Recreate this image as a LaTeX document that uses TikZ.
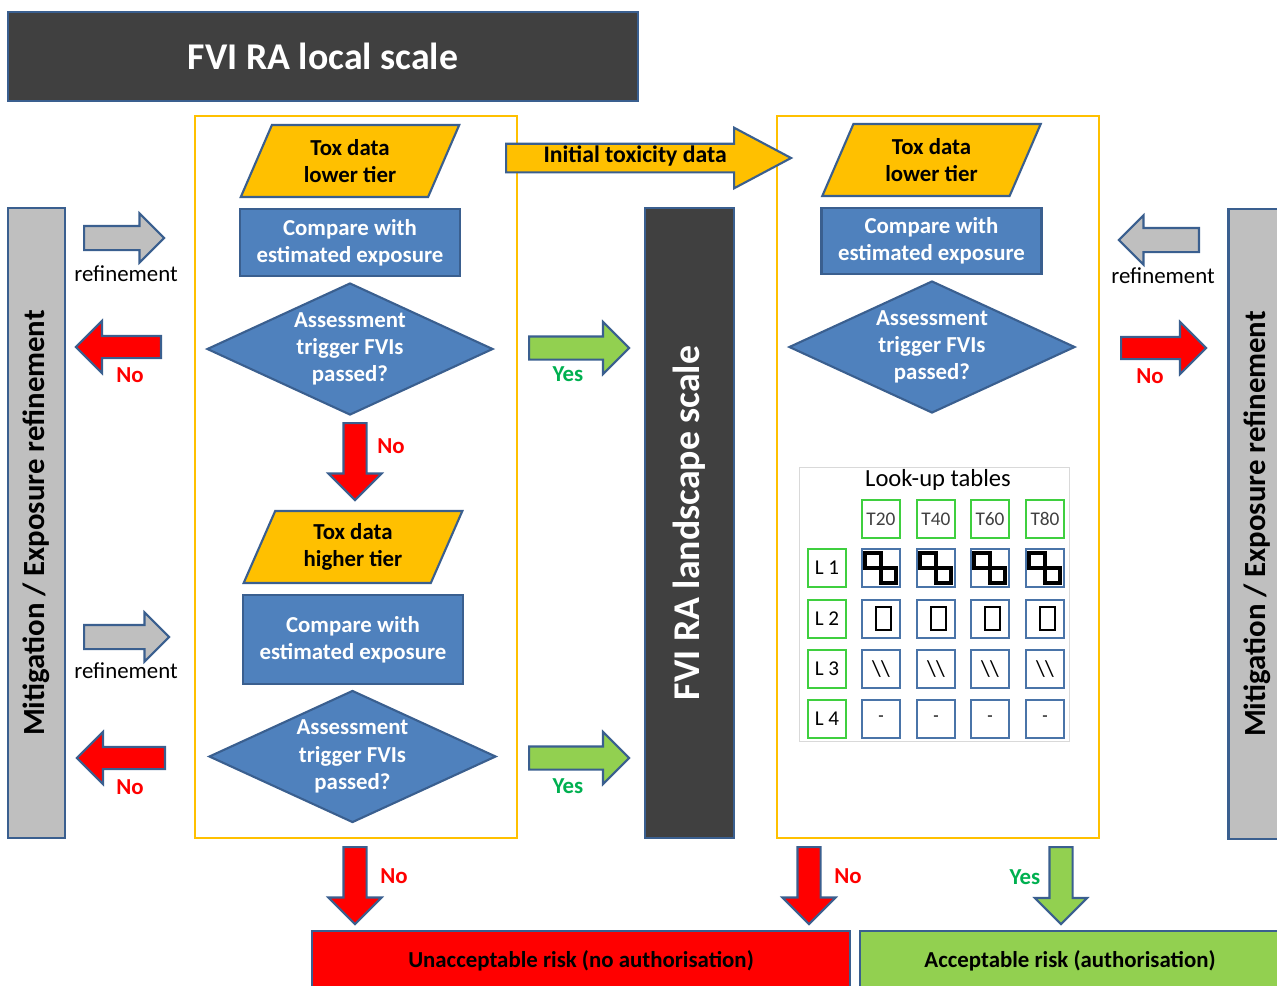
\documentclass[tikz,border=0pt]{standalone}
\usepackage{fontspec}
\setmainfont{Carlito}
\usetikzlibrary{positioning,shapes.geometric,shapes.arrows}

\definecolor{edgeblue}{HTML}{3A5F8F}
\definecolor{boxblue}{HTML}{4F81BD}
\definecolor{toxorange}{HTML}{FFC000}
\definecolor{bargray}{HTML}{BFBFBF}
\definecolor{darkbar}{HTML}{404040}
\definecolor{riskgreen}{HTML}{92D050}
\definecolor{yesgreen}{HTML}{00B050}
\definecolor{tabgreen}{HTML}{3FCF3F}
\definecolor{cellblue}{HTML}{4A74A8}

\newcommand{\boxfont}{\fontsize{13}{15.5}\selectfont\bfseries}

\tikzset{
  frame/.style={draw=toxorange, line width=1.4pt, fill=white},
  toxdata/.style={trapezium, trapezium left angle=67, trapezium right angle=113, trapezium stretches=true, draw=edgeblue, line width=1.2pt, fill=toxorange, minimum width=44mm, minimum height=14.4mm, inner sep=0pt, align=center, font=\boxfont},
  compare/.style={rectangle, draw=edgeblue, line width=1.2pt, fill=boxblue, text=white, minimum width=44mm, align=center, font=\boxfont},
  trigger/.style={diamond, draw=edgeblue, line width=1.2pt, fill=boxblue, text=white, aspect=2.17, inner sep=0pt, minimum width=57.2mm, minimum height=26.4mm, align=center, font=\boxfont},
  blockarrow/.style={single arrow, draw=edgeblue, line width=1.2pt, inner xsep=0pt, inner ysep=2.2mm, single arrow head extend=2.5mm, anchor=tail},
  refarrow/.style={blockarrow, fill=bargray, minimum height=16mm},
  noarrow/.style={blockarrow, fill=red, inner ysep=2mm, single arrow head extend=3mm, minimum height=17mm},
  yesarrow/.style={blockarrow, fill=riskgreen, inner ysep=2.1mm, single arrow head extend=2.9mm, minimum height=20mm},
  downarrow/.style={shape border rotate=270, inner xsep=2.1mm, inner ysep=0pt, minimum height=15.4mm},
  nolabel/.style={text=red, font=\boxfont},
  yeslabel/.style={text=yesgreen, font=\boxfont},
  reflabel/.style={font=\fontsize{13}{15}\selectfont},
  sidebar/.style={rectangle, rotate=90, draw=edgeblue, line width=1.4pt, fill=bargray, minimum width=126mm, minimum height=11.4mm, font=\fontsize{17.5}{20}\selectfont\bfseries},
  tabhead/.style={rectangle, draw=tabgreen, line width=0.8pt, minimum width=7.6mm, minimum height=7.6mm, inner sep=0pt, text=darkbar},
  tabcell/.style={rectangle, draw=cellblue, line width=0.8pt, minimum width=7.6mm, minimum height=7.6mm, inner sep=0pt}
}

\begin{document}
\begin{tikzpicture}[x=0.2mm, y=-0.2mm]
\useasboundingbox (0,0) rectangle (1277,985);

% title
\node[rectangle, draw=edgeblue, line width=1.4pt, fill=darkbar, text=white, minimum width=126mm, minimum height=17.8mm, font=\fontsize{21.5}{25}\selectfont\bfseries] (title) at (323,56.5) {FVI RA local scale};

% side bars
\node[sidebar] (mitleft) at (36.5,523) {Mitigation / Exposure refinement};
\node[sidebar] (mitright) at (1257,524) {Mitigation / Exposure refinement};
\node[sidebar, fill=darkbar, text=white, minimum height=17.8mm, font=\fontsize{21.5}{25}\selectfont\bfseries] (landscape) at (689.5,523) {FVI RA landscape scale};

% local scale
\node[frame, minimum width=64.4mm, minimum height=144.4mm] (localframe) at (356,477) {};
\node[toxdata] (lowL) at (350,161) {Tox data\\lower tier};
\node[compare, minimum height=13.4mm] (cmpL1) at (350,242.5) {Compare with\\estimated exposure};
\node[trigger] (trgL1) at (350,349) {Assessment\\trigger FVIs\\passed?};
\node[noarrow, downarrow] (noL0) at (355,422) {};
\node[nolabel] at (391,446) {No};
\node[toxdata] (highL) at (353,547) {Tox data\\higher tier};
\node[compare, minimum height=17.8mm] (cmpL2) at (353,639.5) {Compare with\\estimated exposure};
\node[trigger, minimum width=57.4mm] (trgL2) at (352.5,756.5) {Assessment\\trigger FVIs\\passed?};

% landscape scale
\node[frame, minimum width=64.4mm, minimum height=144.4mm] (landframe) at (938,477) {};
\node[toxdata] (lowR) at (931.5,160) {Tox data\\lower tier};
\node[compare, minimum height=13.2mm] (cmpR) at (931.5,241) {Compare with\\estimated exposure};
\node[trigger] (trgR) at (932,347) {Assessment\\trigger FVIs\\passed?};

% look-up tables
\node[draw=black!15, line width=0.5pt, minimum width=54mm, minimum height=54.8mm] (lookup) at (934,604) {};
\node[font=\fontsize{14}{16}\selectfont] at (938,480) {Look-up tables};
\foreach \t/\x in {20/881,40/936,60/990,80/1045}
  \node[tabhead, font=\fontsize{11}{12}\selectfont] (t\t) at (\x,519) {T\t};
\foreach \r/\y in {1/568,2/619,3/669,4/719}
  \node[tabhead, text=black, font=\fontsize{12}{13}\selectfont] (l\r) at (827,\y) {L \r};
\foreach \t/\x in {20/881,40/936,60/990,80/1045} {
  \node[tabcell] (c\t a) at (\x,568) {};
  \draw[line width=2.1pt] (\x-16,553) rectangle (\x,568) (\x,568) rectangle (\x+15,583);
  \node[tabcell] (c\t b) at (\x,619) {};
  \draw[line width=1.2pt] (\x-5,607) rectangle (\x+10,630);
  \node[tabcell, font=\fontsize{13}{14}\selectfont] (c\t c) at (\x,669) {\textbackslash\textbackslash};
  \node[tabcell, font=\fontsize{10}{12}\selectfont] (c\t d) at (\x,719) {-};
}

% arrows
\node[blockarrow, fill=toxorange, minimum height=57mm, inner ysep=0.85mm, text height=2.7mm, text depth=0.9mm, single arrow head extend=3.2mm, single arrow tip angle=56, font=\fontsize{13.5}{15}\selectfont\bfseries] (initial) at (505,158) {Initial toxicity data\hspace{10mm}};

\node[refarrow] (refL1) at (83,238) {};
\node[reflabel] at (126,274) {refinement};
\node[noarrow, shape border rotate=180] (noL1) at (162,347) {};
\node[nolabel] at (130,375) {No};
\node[refarrow, minimum height=17mm] (refL2) at (83,637) {};
\node[reflabel] at (126,671) {refinement};
\node[noarrow, shape border rotate=180, minimum height=17.6mm] (noL2) at (166,758) {};
\node[nolabel] at (130,787) {No};

\node[yesarrow] (yes1) at (528,348) {};
\node[yeslabel] at (568,374) {Yes};
\node[yesarrow] (yes2) at (528,758) {};
\node[yeslabel] at (568,786) {Yes};

\node[refarrow, shape border rotate=180] (refR) at (1200,240) {};
\node[reflabel] at (1163,276) {refinement};
\node[noarrow] (noR) at (1120,348) {};
\node[nolabel] at (1150,376) {No};

\node[noarrow, downarrow] (noD1) at (355,846) {};
\node[nolabel] at (394,876) {No};
\node[noarrow, downarrow] (noD2) at (809,846) {};
\node[nolabel] at (848,876) {No};
\node[yesarrow, downarrow] (yesD) at (1061,846) {};
\node[yeslabel] at (1025,877) {Yes};

% outcomes
\node[rectangle, draw=edgeblue, line width=1.4pt, fill=red, minimum width=107.6mm, minimum height=12mm, font=\boxfont] (unacc) at (581,961) {Unacceptable risk (no authorisation)};
\node[rectangle, draw=edgeblue, line width=1.4pt, fill=riskgreen, minimum width=84mm, minimum height=12mm, font=\boxfont] (acc) at (1070,961) {Acceptable risk (authorisation)};

\end{tikzpicture}
\end{document}
